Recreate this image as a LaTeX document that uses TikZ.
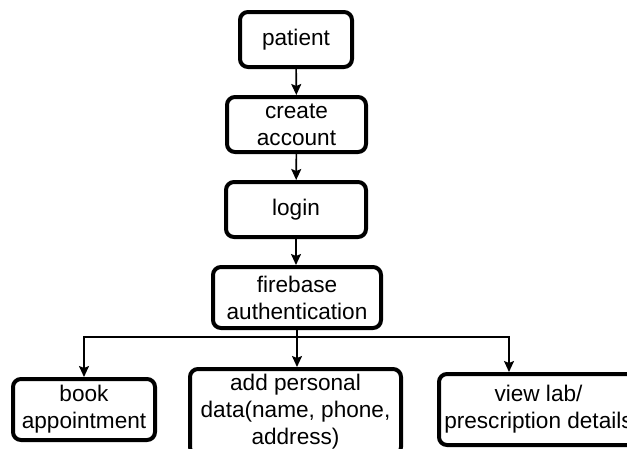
\documentclass[tikz,border=0pt]{standalone}
\usepackage{fontspec}
\setmainfont{Liberation Sans}
\usetikzlibrary{arrows.meta}

\begin{document}
\begin{tikzpicture}[x=1pt,y=-1pt,
  box/.style={draw, line width=4pt, rounded corners=8pt, align=center,
    inner sep=0pt, font=\fontsize{22.6}{27}\selectfont},
  flow/.style={line width=1.6pt, -{Stealth[length=11pt,width=10pt,inset=2pt]}}]
\useasboundingbox (0,0) rectangle (627,448);

% boxes (sizes measured on the stroke centre line)
\node[box, minimum width=112pt, minimum height=55pt] (pat) at (296,39.5) {patient};
\node[box, minimum width=139pt, minimum height=55pt] (acc) at (296.5,124.5) {create\\account};
\node[box, minimum width=140pt, minimum height=55pt] (log) at (296,209.5) {login};
\node[box, minimum width=168pt, minimum height=61pt] (fb) at (297,297.5) {firebase\\authentication};
\node[box, minimum width=211pt, minimum height=86pt] (add) at (295.5,412) {add personal\\data(name, phone,\\address)};
\node[box, minimum width=142pt, minimum height=61pt] (book) at (84,409.5) {book\\appointment};
\node[box, minimum width=199pt, minimum height=71pt] (view) at (538.5,409.5) {view lab/\\prescription details};

% branch points
\coordinate (split) at (297,337);
\coordinate (vx) at (509,337);

% connectors
\draw[flow] (pat) -- (acc);
\draw[flow] (acc) -- (log);
\draw[flow] (log.south) -- (log.south |- fb.north);
\draw[flow] (fb.south) -- (fb.south |- add.north);
\draw[flow] (split) -| (book.north);
\draw[flow] (split) -- (vx) -- (vx |- view.north);
\end{tikzpicture}
\end{document}
